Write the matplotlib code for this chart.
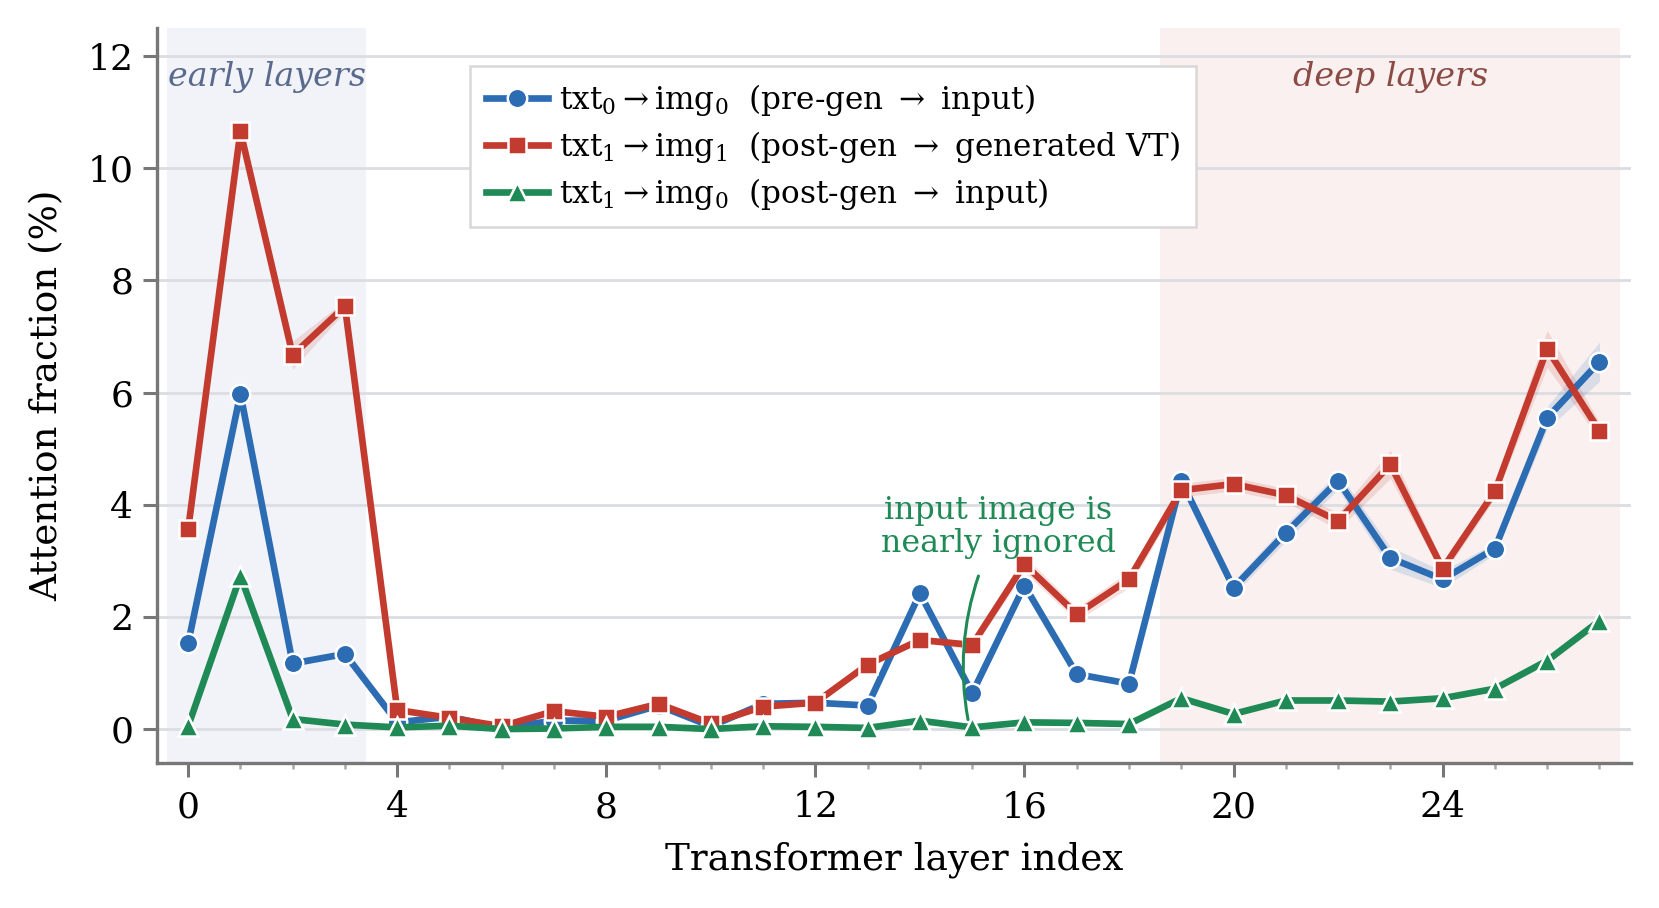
import numpy as np
import matplotlib
matplotlib.use("Agg")
import matplotlib.pyplot as plt

# layer-wise attention fractions (%)
layers = list(range(28))
pre_input = [1.53, 5.98, 1.17, 1.34, 0.12, 0.22, 0.02, 0.15, 0.15, 0.42,
             0.05, 0.45, 0.47, 0.42, 2.42, 0.64, 2.56, 0.98, 0.81, 4.43,
             2.52, 3.50, 4.43, 3.05, 2.67, 3.22, 5.55, 6.55]
post_gen = [3.56, 10.66, 6.67, 7.54, 0.34, 0.20, 0.05, 0.32, 0.22, 0.45,
            0.10, 0.40, 0.47, 1.15, 1.59, 1.50, 2.94, 2.05, 2.67, 4.26,
            4.37, 4.17, 3.71, 4.72, 2.86, 4.24, 6.78, 5.32]
post_input = [0.05, 2.73, 0.18, 0.08, 0.03, 0.06, 0.00, 0.01, 0.04, 0.04,
              0.00, 0.05, 0.04, 0.02, 0.15, 0.03, 0.12, 0.11, 0.09, 0.55,
              0.27, 0.51, 0.51, 0.49, 0.55, 0.72, 1.22, 1.93]

# half-width of the shaded band around each series
pre_input_err = [0.05, 0.10, 0.05, 0.05, 0.03, 0.03, 0.02, 0.03, 0.03, 0.03,
                 0.02, 0.03, 0.03, 0.03, 0.08, 0.05, 0.08, 0.05, 0.05, 0.10,
                 0.12, 0.15, 0.15, 0.20, 0.15, 0.10, 0.20, 0.35]
post_gen_err = [0.08, 0.10, 0.25, 0.10, 0.05, 0.03, 0.03, 0.03, 0.03, 0.03,
                0.02, 0.03, 0.03, 0.05, 0.05, 0.08, 0.15, 0.12, 0.15, 0.12,
                0.12, 0.12, 0.15, 0.25, 0.12, 0.12, 0.33, 0.15]
post_input_err = [0.02, 0.05, 0.03, 0.02, 0.02, 0.02, 0.01, 0.01, 0.02, 0.02,
                  0.01, 0.02, 0.02, 0.02, 0.03, 0.02, 0.03, 0.03, 0.03, 0.04,
                  0.04, 0.04, 0.04, 0.04, 0.04, 0.05, 0.06, 0.08]

labels = [r"txt$_0\rightarrow$img$_0$  (pre-gen $\rightarrow$ input)",
          r"txt$_1\rightarrow$img$_1$  (post-gen $\rightarrow$ generated VT)",
          r"txt$_1\rightarrow$img$_0$  (post-gen $\rightarrow$ input)"]

plt.rcParams["font.family"] = "DejaVu Serif"
plt.rcParams["mathtext.fontset"] = "dejavuserif"

blue = "#2b6cb3"
red = "#c33b2f"
green = "#1f8a55"

fig = plt.figure(figsize=(8.295, 4.54), dpi=200)
ax = fig.add_axes([0.0945, 0.16, 0.8885, 0.809])

ax.axvspan(-0.4, 3.4, color="#f1f3f8", zorder=0, lw=0)
ax.axvspan(18.6, 27.4, color="#f9f0ef", zorder=0, lw=0)

series = [(pre_input, pre_input_err, blue, "o", 7),
          (post_gen, post_gen_err, red, "s", 6.5),
          (post_input, post_input_err, green, "^", 7)]
x = np.array(layers)
for (vals, err, col, mk, ms), lab in zip(series, labels):
    v = np.array(vals)
    e = np.array(err)
    ax.fill_between(x, v - e, v + e, color=col, alpha=0.15, lw=0, zorder=2)
    ax.plot(x, v, color=col, lw=2.4, marker=mk, ms=ms, mec="white",
            mew=0.9, label=lab, zorder=3)

ax.text(1.5, 11.62, "early layers", style="italic", color="#5a6a8c",
        fontsize=12, ha="center", va="center")
ax.text(23.0, 11.62, "deep layers", style="italic", color="#8b4b45",
        fontsize=12, ha="center", va="center")

ax.text(15.5, 3.6, "input image is\nnearly ignored", color=green,
        fontsize=11.4, ha="center", va="center", linespacing=1.1)
ax.annotate("", xy=(14.92, 0.17), xytext=(15.12, 2.73),
            arrowprops=dict(arrowstyle="-", color=green, lw=1.1,
                            connectionstyle="arc3,rad=0.13",
                            shrinkA=0, shrinkB=0), zorder=4)

ax.set_xlim(-0.6, 27.6)
ax.set_ylim(-0.6, 12.5)
ax.set_xticks(range(0, 28, 4))
ax.set_xticks(range(0, 28), minor=True)
ax.set_yticks(range(0, 13, 2))
ax.tick_params(axis="both", which="major", labelsize=13, length=5,
               width=1.1, color="#777777")
ax.tick_params(axis="x", which="major", pad=5)
ax.tick_params(axis="x", which="minor", length=2.3, width=0.9,
               color="#aaaaaa")
ax.grid(axis="y", color="#dcdde2", lw=1.0, zorder=1)
ax.set_axisbelow(True)

for s in ["top", "right"]:
    ax.spines[s].set_visible(False)
for s in ["left", "bottom"]:
    ax.spines[s].set_color("#777777")
    ax.spines[s].set_linewidth(1.2)

ax.set_xlabel("Transformer layer index", fontsize=13.4, labelpad=6)
ax.set_ylabel("Attention fraction (%)", fontsize=13.4, labelpad=8)

leg = ax.legend(loc="upper left", bbox_to_anchor=(0.2125, 0.948),
                borderaxespad=0, fontsize=11.2, fancybox=False,
                framealpha=1, edgecolor="#d8d8d8", borderpad=0.5,
                labelspacing=0.35, handletextpad=0.35, handlelength=2.0)
leg.get_frame().set_linewidth(0.9)

fig.savefig("out.png", dpi=200)
